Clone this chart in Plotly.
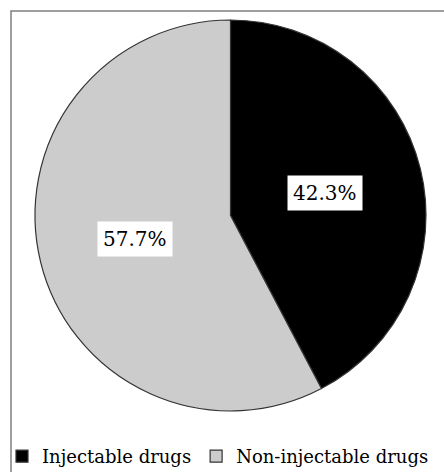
import plotly.graph_objects as go

# Share of drug use by route
categories = ["Injectable drugs", "Non-injectable drugs"]
shares = [42.3, 57.7]
slice_colors = ["#000000", "#cccccc"]

W, H = 444, 472
BOTTOM = 30            # strip under the plot area reserved for the legend
PH = H - BOTTOM        # plot area height in px
SERIF = "DejaVu Serif"


def py(y_px):
    """Pixel row (from top of page) -> paper y within the plot area."""
    return (PH - y_px) / PH


fig = go.Figure()
fig.add_trace(go.Pie(
    labels=categories,
    values=shares,
    sort=False,
    direction="clockwise",
    rotation=0,
    textinfo="none",
    hoverinfo="label+percent",
    marker=dict(colors=slice_colors, line=dict(color="#333333", width=1.2)),
    domain=dict(x=[35 / W, 426 / W], y=[py(411), py(20)]),
))

# Percentage labels in white boxes
label_pos = [(325, 193), (135, 239)]
for v, (lx, ly) in zip(shares, label_pos):
    fig.add_annotation(
        x=lx / W, y=py(ly), xref="paper", yref="paper",
        text=f"{v:.1f}%", showarrow=False,
        font=dict(family=SERIF, size=20, color="#000000"),
        bgcolor="#ffffff", borderpad=5,
        xanchor="center", yanchor="middle",
    )

# Outer frame
fig.add_shape(
    type="rect", xref="paper", yref="paper",
    x0=11 / W, x1=1.2, y0=-0.3, y1=py(11),
    line=dict(color="#808080", width=1.5), fillcolor="rgba(0,0,0,0)",
)

fig.update_layout(
    width=W, height=H,
    margin=dict(l=0, r=0, t=0, b=BOTTOM, autoexpand=False),
    paper_bgcolor="#ffffff",
    plot_bgcolor="#ffffff",
    showlegend=True,
    legend=dict(
        orientation="h",
        x=2 / W, xanchor="left",
        y=py(438), yanchor="top",
        font=dict(family=SERIF, size=18, color="#000000"),
        bgcolor="rgba(0,0,0,0)",
        itemclick=False,
    ),
)

fig.write_html("out.html")
